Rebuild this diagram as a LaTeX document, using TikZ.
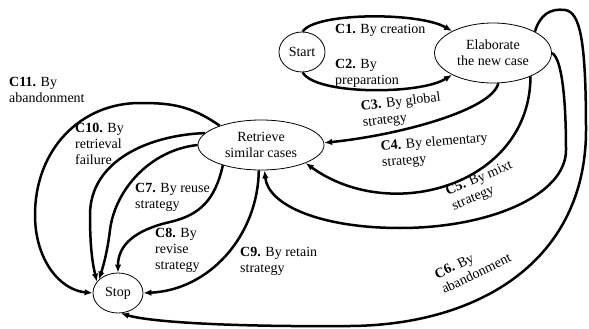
\documentclass[tikz,border=0pt]{standalone}
\usepackage{fontspec}
\setmainfont{Liberation Serif}
\usetikzlibrary{shapes.geometric,arrows.meta}
\tikzset{
  state/.style={draw, ellipse, line width=0.8pt, inner sep=0pt, align=center,
    font=\fontsize{14}{16}\selectfont},
  flow/.style={line width=2.5pt, -{Latex[length=8pt,width=6.5pt]}},
  lbl/.style={align=left, anchor=north west, inner sep=0pt,
    font=\fontsize{14}{16}\selectfont},
}
\begin{document}
\begin{tikzpicture}[x=1pt,y=-1pt]
  \useasboundingbox (0,0) rectangle (589,329);

  \node[state, minimum width=46pt, minimum height=40pt] (start) at (302,52) {Start};
  \node[state, minimum width=117pt, minimum height=60pt] (elab) at (493,53) {Elaborate\\the new case};
  \node[state, minimum width=126pt, minimum height=50pt] (retr) at (261,145) {Retrieve\\similar cases};
  \node[state, minimum width=50pt, minimum height=40pt] (stop) at (118,293) {Stop};

  % start -> elaborate
  \draw[flow] (start.88) .. controls (315,12) and (420,12) .. (elab.152);
  \draw[flow] (start.272) .. controls (315,95) and (420,95) .. (elab.208);
  \node[lbl] (l1) at (335,24) {\textbf{C1.} By creation};
  \node[lbl] (l2) at (335,59) {\textbf{C2.} By\\preparation};

  % elaborate -> retrieve
  \draw[flow] (elab.280) .. controls (492,110) and (400,135) .. (retr.2);
  \draw[flow] (elab.-32) .. controls (530,185) and (391,225) .. (retr.-22);
  \draw[flow] (elab.0) .. controls (562,58) and (566,100) .. (566,150)
    .. controls (566,195) and (490,228) .. (400,228)
    .. controls (320,228) and (268,205) .. (retr.-82);
  \node[lbl, rotate=7] (l3) at (360,101) {\textbf{C3.} By global\\strategy};
  \node[lbl, rotate=5] (l4) at (380,141) {\textbf{C4.} By elementary\\strategy};
  \node[lbl, rotate=23] (l5) at (444,187) {\textbf{C5.} By mixt\\strategy};

  % elaborate -> stop
  \draw[flow] (elab.27) .. controls (540,15) and (550,8) .. (565,10)
    .. controls (580,12) and (586,40) .. (586,130)
    .. controls (586,260) and (480,325) .. (350,326)
    .. controls (230,327) and (150,322) .. (stop.-82);
  \node[lbl, rotate=26] (l6) at (433,271) {\textbf{C6.} By\\abandonment};

  % retrieve -> stop
  \draw[flow] (retr.-152) .. controls (215,200) and (200,215) .. (170,222)
    .. controls (135,230) and (118,245) .. (stop.90);
  \draw[flow] (retr.180) .. controls (150,150) and (115,190) .. (110,230)
    .. controls (107,255) and (102,270) .. (stop.145);
  \draw[flow] (retr.168) .. controls (150,135) and (90,160) .. (90,215)
    .. controls (90,250) and (93,265) .. (stop.152);
  \draw[flow] (retr.155) .. controls (190,105) and (170,103) .. (140,103)
    .. controls (80,103) and (35,150) .. (35,215)
    .. controls (35,260) and (60,290) .. (stop.180);
  \draw[flow] (retr.-95) .. controls (258,235) and (210,290) .. (stop.0);
  \node[lbl] (l7) at (135,183) {\textbf{C7.} By reuse\\strategy};
  \node[lbl] (l8) at (155,228) {\textbf{C8.} By\\revise\\strategy};
  \node[lbl] (l9) at (240,247) {\textbf{C9.} By retain\\strategy};
  \node[lbl] (l10) at (75,123) {\textbf{C10.} By\\retrieval\\failure};
  \node[lbl] (l11) at (9,77) {\textbf{C11.} By\\abandonment};
\end{tikzpicture}
\end{document}
